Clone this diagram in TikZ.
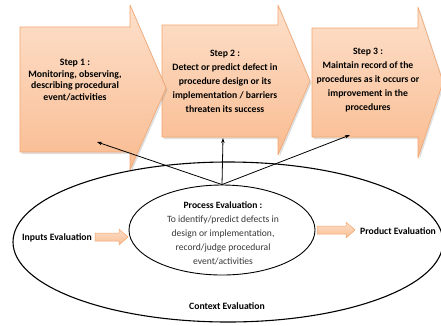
\documentclass[tikz,border=0pt]{standalone}
\usepackage{fontspec}
\setmainfont{Carlito}
\usetikzlibrary{arrows.meta}
\usetikzlibrary{shadows}
\usetikzlibrary{shapes.geometric}
\definecolor{peachtop}{RGB}{253,224,203}
\definecolor{peachbot}{RGB}{249,188,145}
\definecolor{peachline}{RGB}{243,165,110}
\definecolor{proctext}{RGB}{55,55,55}

\tikzset{
  bigarrow/.style={draw=peachline,line width=0.6pt,top color=peachtop,bottom color=peachbot,
    drop shadow={opacity=0.25,shadow xshift=1.5pt,shadow yshift=-2pt}},
  smallarrow/.style={draw=peachline,line width=0.5pt,top color=peachtop,bottom color=peachbot},
  steptext/.style={align=center,inner sep=0pt,font=\bfseries\fontsize{9.7}{14}\selectfont},
  evaltext/.style={inner sep=0pt,font=\bfseries\fontsize{9.7}{11}\selectfont},
  link/.style={line width=0.8pt,-{Stealth[length=5pt,width=3.5pt]}}
}

\begin{document}
\begin{tikzpicture}[line cap=round,line join=round,x=1pt,y=-1pt]
\useasboundingbox (0,0) rectangle (441,325);
% the three steps
\draw[bigarrow] (312,28) -- (418,28) -- (418,7) -- (443,82) -- (418,158) -- (418,137) -- (312,137) -- cycle;
\draw[bigarrow] (162,25) -- (278,25) -- (278,5) -- (310,81) -- (278,155) -- (278,137) -- (162,137) -- cycle;
\draw[bigarrow] (20,27) -- (130,27) -- (130,5) -- (166,88) -- (130,170) -- (130,152) -- (20,152) -- cycle;
\node[steptext,font=\bfseries\fontsize{9.8}{11.7}\selectfont] (s1) at (75,80) {Step 1 :\\Monitoring, observing,\\describing procedural\\event/activities};
\node[steptext] (s2) at (225,81) {Step 2 :\\Detect or predict defect in\\procedure design or its\\implementation / barriers\\threaten its success};
\node[steptext] (s3) at (368,80) {Step 3 :\\Maintain record of the\\procedures as it occurs or\\improvement in the\\procedures};
\coordinate (s1foot) at (97,142);
\coordinate (s2foot) at (223,138);
\coordinate (s3foot) at (350,135);
% ellipses
\node[draw,ellipse,line width=1.1pt,minimum width=430pt,minimum height=160pt] (ctx) at (228,242) {};
\node[draw,ellipse,line width=0.9pt,minimum width=186pt,minimum height=90pt] (proc) at (222,230) {};
\node[align=center,inner sep=0pt,text=proctext,font=\fontsize{9.6}{14}\selectfont] (proctxt) at (223,233)
  {\textbf{\color{black}Process Evaluation :}\\To identify/predict defects in\\design or implementation,\\record/judge procedural\\event/activities};
\draw[link] (proc.north) -- (s1foot);
\draw[link] (proc.north) -- (s2foot);
\draw[link] (proc.north) -- (s3foot);
% evaluations
\node[evaltext] (inp) at (57,238) {Inputs Evaluation};
\node[evaltext] (prod) at (398,231) {Product Evaluation};
\node[evaltext] (ctxlbl) at (227,306) {Context Evaluation};
\draw[smallarrow] (95,233) -- (119,233) -- (119,229) -- (128,237) -- (119,245) -- (119,241) -- (95,241) -- cycle;
\draw[smallarrow] (317,226) -- (346,226) -- (346,222) -- (355,230) -- (346,238) -- (346,234) -- (317,234) -- cycle;
\end{tikzpicture}
\end{document}
